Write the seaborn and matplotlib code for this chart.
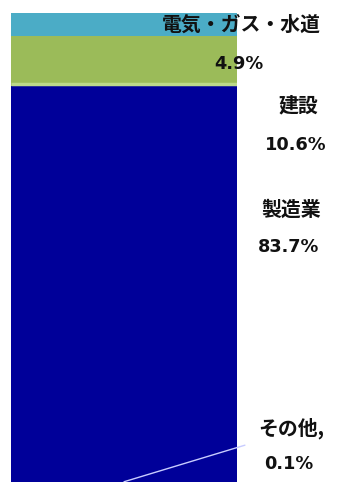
import matplotlib
matplotlib.use("Agg")
import matplotlib.pyplot as plt
import seaborn as sns
import pandas as pd
import numpy as np

# Industry shares (%), listed from the bottom of the stacked bar upwards
industries = ["その他", "製造業", "建設", "電気・ガス・水道"]
shares = [0.1, 83.7, 10.6, 4.9]
value_labels = ["0.1%", "83.7%", "10.6%", "4.9%"]
colors = ["#000099", "#000099", "#9BBB59", "#4BACC6"]

sns.set_theme(style="white")
plt.rcParams["font.family"] = ["Noto Sans CJK JP", "DejaVu Sans"]

W, H = 338, 482
fig = plt.figure(figsize=(W / 100, H / 100), dpi=100)
ax = fig.add_axes([11 / W, 0, 226 / W, 472 / H])

cum = np.cumsum(shares)
df = pd.DataFrame({"grp": ["all"] * len(shares), "top": cum, "industry": industries})

# Stack by drawing cumulative totals from the tallest down
for i in range(len(shares) - 1, -1, -1):
    sns.barplot(data=df.iloc[[i]], x="grp", y="top", color=colors[i],
                width=1.0, saturation=1, ax=ax, edgecolor="none", linewidth=0)

# soft highlight along the lower edge of the green segment
ax.hlines(cum[1] + 0.6, -0.5, 0.5, color="#BCD98A", lw=2.5)

ax.set_xlim(-0.5, 0.5)
ax.set_ylim(0, 100)
ax.axis("off")

# Label placement: x in axes fraction, y (name line, value line) in data units
label_pos = {
    "電気・ガス・水道": (1.02, 96.9, 88.6),
    "建設": (1.27, 79.8, 71.3),
    "製造業": (1.24, 57.7, 49.7),
    "その他": (1.24, 11.4, 3.9),
}
names = {"その他": "その他,"}

tr = ax.get_yaxis_transform()
for ind, s, vl, c in zip(industries, shares, value_labels, cum):
    lx, ny, vy = label_pos[ind]
    ax.text(lx, ny, names.get(ind, ind), transform=tr, ha="center", va="center",
            fontsize=14.3, fontweight="bold", color="#111111", clip_on=False)
    ax.text(lx - 0.01, vy, vl, transform=tr, ha="center", va="center",
            fontsize=12.8, fontweight="bold", color="#111111", clip_on=False,
            family="DejaVu Sans")

# leader line from the "その他" label to its slim segment
small = industries.index("その他")
ax.annotate("", xy=(0, cum[small] - shares[small] / 2), xycoords="data",
            xytext=(1.035, 7.8), textcoords=("axes fraction", "data"),
            annotation_clip=False,
            arrowprops=dict(arrowstyle="-", color="#c8ccff", lw=1.0,
                            shrinkA=0, shrinkB=0))

fig.savefig("out.png", dpi=100, facecolor="white")
